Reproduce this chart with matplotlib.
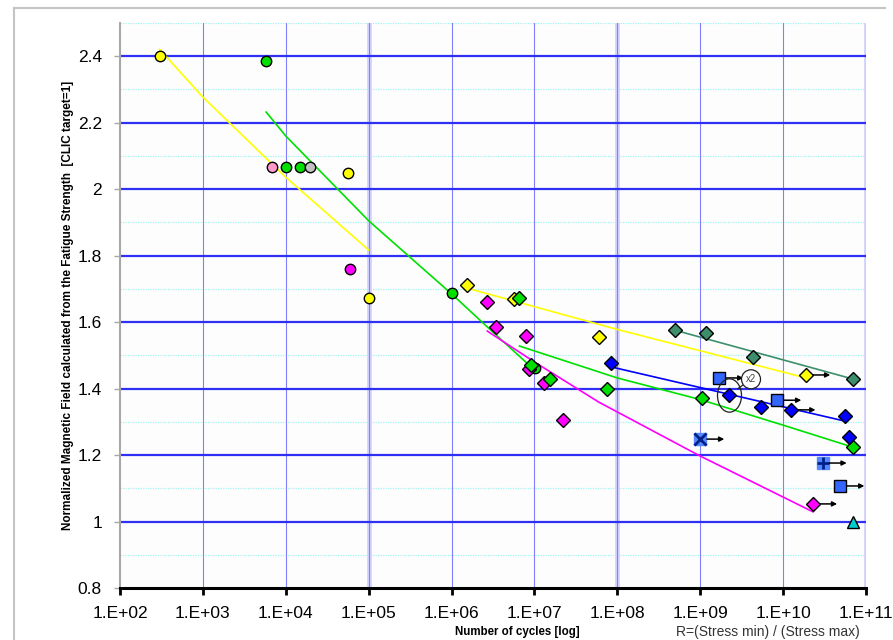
import numpy as np
import matplotlib
matplotlib.use("Agg")
import matplotlib.pyplot as plt
import matplotlib.path as mpath
from matplotlib.transforms import Affine2D
from matplotlib.lines import Line2D

plt.rcParams['font.family'] = ['Liberation Sans', 'DejaVu Sans']

# ---- data ----
yel_circ_x = [300, 5.6e4, 1e5]
yel_circ_y = [2.40, 2.048, 1.672]
grn_circ_x = [5.7e3, 1e4, 1.48e4, 1e6, 1.02e7]
grn_circ_y = [2.385, 2.066, 2.066, 1.687, 1.462]
pink_circ_x = [6.8e3]
pink_circ_y = [2.066]
gray_circ_x = [1.95e4]
gray_circ_y = [2.066]
mag_circ_x = [5.9e4]
mag_circ_y = [1.759]

yel_dia_x = [1.55e6, 5.7e6, 6e7, 1.9e10]
yel_dia_y = [1.711, 1.669, 1.555, 1.441]
grn_dia_x = [6.6e6, 9.2e6, 1.55e7, 7.6e7, 1.05e9, 6.9e10]
grn_dia_y = [1.672, 1.471, 1.429, 1.398, 1.371, 1.224]
mag_dia_x = [2.7e6, 3.4e6, 7.8e6, 8.5e6, 1.29e7, 2.2e7, 2.3e10]
mag_dia_y = [1.660, 1.585, 1.558, 1.459, 1.417, 1.305, 1.053]
blu_dia_x = [8.5e7, 2.2e9, 5.4e9, 1.26e10, 5.6e10, 6.3e10]
blu_dia_y = [1.477, 1.380, 1.344, 1.336, 1.317, 1.254]
sea_dia_x = [4.9e8, 1.17e9, 4.3e9, 6.9e10]
sea_dia_y = [1.576, 1.567, 1.495, 1.429]
blu_sq_x = [1.7e9, 8.5e9, 4.9e10]
blu_sq_y = [1.432, 1.365, 1.107]
xsq_x, xsq_y = [1e9], [1.248]
psq_x, psq_y = [3e10], [1.176]
tri_x, tri_y = [6.9e10], [1.0]

# run-outs (arrows pointing right)
runout_x = [6.9e10, 1.9e10, 1.7e9, 8.5e9, 1.26e10, 5.6e10, 6.3e10, 6.9e10, 1e9, 3e10, 4.9e10, 2.3e10]
runout_y = [1.429, 1.441, 1.432, 1.365, 1.336, 1.317, 1.254, 1.224, 1.248, 1.176, 1.107, 1.053]
runout_c = ['k', 'k', 'k', 'k', 'k', 'k', 'r', 'k', 'k', 'k', 'k', 'k']

# trend lines
yel1_x = [300, 1e3, 1e4, 1e5]
yel1_y = [2.421, 2.277, 2.036, 1.817]
grn1_x = [5.8e3, 1e4, 1e5, 3e5, 1e6, 3e6, 1e7]
grn1_y = [2.232, 2.16, 1.905, 1.80, 1.685, 1.575, 1.456]
yel2_x = [1.55e6, 1e8, 1.7e10]
yel2_y = [1.702, 1.578, 1.435]
sea_x = [4.9e8, 6.9e10]
sea_y = [1.576, 1.429]
blu_x = [8.5e7, 5.6e10]
blu_y = [1.465, 1.302]
grn2_x = [6.6e6, 1e8, 1e9, 1e10, 6.9e10]
grn2_y = [1.528, 1.432, 1.367, 1.290, 1.224]
mag_x = [2.7e6, 1e7, 6e7, 1e9, 2.3e10]
mag_y = [1.573, 1.480, 1.359, 1.197, 1.029]

decades = list(range(2, 12))
yticks = [0.8, 1.0, 1.2, 1.4, 1.6, 1.8, 2.0, 2.2, 2.4]
yminor = [0.9, 1.1, 1.3, 1.5, 1.7, 1.9, 2.1, 2.3, 2.5]

fig = plt.figure(figsize=(8.93, 6.4), dpi=100, facecolor='white')
ax = fig.add_axes([120/893, 1-588/640, 746/893, 565/640])
ax.set_xscale('log')
ax.set_xlim(1e2, 1e11)
ax.set_ylim(0.8, 2.5)

# grid
for y in yminor:
    ax.axhline(y, color='#9ff5f5', lw=0.9, ls=(0, (1, 1)), zorder=0)
for y in yticks[1:]:
    ax.axhline(y, color='#2f2ff5', lw=1.6, zorder=1)
for d in decades[1:]:
    if d in (5, 8, 11):
        ax.axvline(10.0**d, color='#d4d4ff', lw=3.5, zorder=0)
    ax.axvline(10.0**d, color='#8080ff', lw=0.8, zorder=0)

# trend lines
ax.plot(yel1_x, yel1_y, color='#ffff00', lw=1.2, zorder=2)
ax.plot(grn1_x, grn1_y, color='#00e000', lw=1.2, zorder=2)
ax.plot(yel2_x, yel2_y, color='#ffff00', lw=1.2, zorder=2)
ax.plot(sea_x, sea_y, color='#3d8f6b', lw=1.2, zorder=2)
ax.plot(blu_x, blu_y, color='#0000ff', lw=1.2, zorder=2)
ax.plot(grn2_x, grn2_y, color='#00e000', lw=1.2, zorder=2)
ax.plot(mag_x, mag_y, color='#ff00ff', lw=1.2, zorder=2)

# markers
kw = dict(ls='none', mec='black', mew=1.0, zorder=4)
ax.plot(yel_circ_x, yel_circ_y, 'o', ms=7.5, mfc='#ffff00', **kw)
ax.plot(grn_circ_x, grn_circ_y, 'o', ms=7.5, mfc='#00e000', **kw)
ax.plot(pink_circ_x, pink_circ_y, 'o', ms=7.5, mfc='#ff99cc', **kw)
ax.plot(gray_circ_x, gray_circ_y, 'o', ms=7.5, mfc='#c0c0c0', **kw)
ax.plot(mag_circ_x, mag_circ_y, 'o', ms=7.5, mfc='#ff00ff', **kw)
ax.plot(yel_dia_x, yel_dia_y, 'D', ms=7, mfc='#ffff00', **kw)
ax.plot(mag_dia_x, mag_dia_y, 'D', ms=7, mfc='#ff00ff', **kw)
ax.plot(grn_dia_x, grn_dia_y, 'D', ms=7, mfc='#00e000', **kw)
ax.plot(blu_dia_x, blu_dia_y, 'D', ms=7, mfc='#0000ff', **kw)
ax.plot(sea_dia_x, sea_dia_y, 'D', ms=7, mfc='#3d8f6b', **kw)
ax.plot(blu_sq_x, blu_sq_y, 's', ms=9, mfc='#3366ff', **kw)
ax.plot(xsq_x, xsq_y, 's', ms=9, mfc='#5588ff', mec='#5588ff', ls='none', zorder=4)
ax.plot(xsq_x, xsq_y, 'x', ms=8, mec='#00208a', mew=2, ls='none', zorder=5)
ax.plot(psq_x, psq_y, 's', ms=9, mfc='#5588ff', mec='#5588ff', ls='none', zorder=4)
ax.plot(psq_x, psq_y, '+', ms=9, mec='#00208a', mew=2, ls='none', zorder=5)
ax.plot(tri_x, tri_y, '^', ms=8, mfc='#00cccc', **kw)

# run-out arrows
for x, y, c in zip(runout_x, runout_y, runout_c):
    ax.annotate('', xy=(x*10**0.29, y), xytext=(x*10**0.08, y),
                arrowprops=dict(arrowstyle='-|>', color=c, lw=1.1,
                                mutation_scale=7, shrinkA=0, shrinkB=0),
                zorder=5)

# x2 callout
ell = mpath.Path.unit_circle().transformed(Affine2D().scale(0.72, 1.0))
ax.plot([2.2e9], [1.380], marker=ell, ms=24, mfc='none', mec='#222222',
        mew=0.9, ls='none', zorder=5)
ax.annotate('x2', xy=(2.2e9, 1.380), xytext=(4.1e9, 1.428), fontsize=7,
            ha='center', va='center', color='#444444',
            bbox=dict(boxstyle='circle,pad=0.45', fc='white', ec='#222222', lw=0.9),
            arrowprops=dict(arrowstyle='-', color='#222222', lw=0.9,
                            shrinkA=0, shrinkB=8), zorder=6)

# axes style
for s in ('top', 'right'):
    ax.spines[s].set_visible(False)
ax.spines['bottom'].set_color('black')
ax.spines['bottom'].set_linewidth(2.2)
ax.spines['left'].set_color('#a8a8a8')
ax.spines['left'].set_linewidth(1.5)
ax.set_xticks([10.0**d for d in decades])
ax.set_xticklabels(['1.E+%02d' % d for d in decades])
ax.xaxis.set_minor_locator(matplotlib.ticker.NullLocator())
ax.set_yticks(yticks)
ax.set_yticklabels(['%g' % v for v in yticks])
ax.tick_params(axis='x', direction='out', length=5, width=2, color='black',
               labelsize=12.5, pad=8)
ax.tick_params(axis='y', direction='out', length=4, width=1, color='#a8a8a8',
               labelsize=12.5, pad=9)
ax.set_facecolor('#fdfdfd')
for lab in ax.get_xticklabels():
    lab.set_clip_on(False)

fig.text(68/893, 1-305/640,
         'Normalized Magnetic Field calculated from the Fatigue Strength  [CLIC target=1]',
         rotation=90, ha='center', va='center', fontsize=8.5, fontweight='bold')
fig.text(517/893, 1-632/640, 'Number of cycles [log]', ha='center', va='center',
         fontsize=8.3, fontweight='bold')
fig.text(676/893, 1-632/640, 'R=(Stress min) / (Stress max)', ha='left', va='center',
         fontsize=10, color='#333333')

# chart-area frame
fig.add_artist(Line2D([14/893, 885/893], [1-8/640, 1-8/640], color='#c4c4c4', lw=1.5))
fig.add_artist(Line2D([14/893, 14/893], [0, 1-8/640], color='#c4c4c4', lw=1.5))

fig.savefig('out.png', dpi=100, facecolor='white')
